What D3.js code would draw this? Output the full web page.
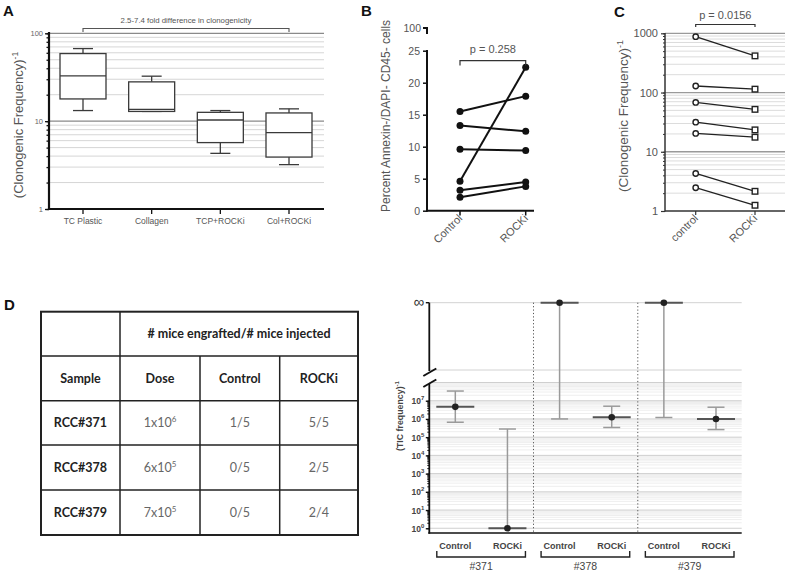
<!DOCTYPE html>
<html><head><meta charset="utf-8">
<script src="https://cdn.jsdelivr.net/npm/d3@7"></script>
<style>body{margin:0;background:#fff} svg{display:block}</style>
</head><body><svg id="c" width="787" height="572"></svg>
<script>
// ---------- Panel A ----------
const aCategories = ["TC Plastic","Collagen","TCP+ROCKi","Col+ROCKi"];
const aWhiskerLow = [13.2, 12.9, 4.3, 3.2];
const aQ1 = [17.9, 12.9, 5.7, 3.9];
const aMedian = [32.7, 13.6, 10.3, 7.4];
const aQ3 = [58.8, 28, 12.6, 12.4];
const aWhiskerHigh = [67, 32.5, 13.2, 13.8];
const aYTicks = [1, 10, 100];
const aNote = "2.5-7.4 fold difference in clonogenicity";

// ---------- Panel B ----------
const bGroups = ["Control","ROCKi"];
const bControl = [15.5, 13.3, 9.6, 4.6, 3.2, 2.1];
const bROCKi = [17.9, 12.4, 9.4, 22.4, 4.5, 3.8];
const bYTicks = [0, 5, 10, 15, 20, 25];
const bBreakTick = 100;
const bP = "p = 0.258";

// ---------- Panel C ----------
const cGroups = ["control","ROCKi"];
const cControl = [877, 129, 68, 31.6, 20.4, 4.3, 2.47];
const cROCKi = [416, 114, 52, 23.4, 17.6, 2.15, 1.25];
const cYTicks = [1, 10, 100, 1000];
const cP = "p = 0.0156";

// ---------- Panel D table ----------
const dHeader = "# mice engrafted/# mice injected";
const dColumns = ["Sample","Dose","Control","ROCKi"];
const dSamples = ["RCC#371","RCC#378","RCC#379"];
const dDoseBase = ["1x10","6x10","7x10"];
const dDoseExp = ["6","5","5"];
const dControl = ["1/5","0/5","0/5"];
const dROCKi = ["5/5","2/5","2/4"];

// ---------- Panel D chart ----------
const eSamples = ["#371","#378","#379"];
const eArms = ["Control","ROCKi"];
const eEstimate = [4.6e6, 1, Infinity, 1.24e6, Infinity, 1e6];
const eUpper = [3.4e7, 2.8e5, Infinity, 5e6, Infinity, 4.4e6];
const eLower = [6.6e5, 1, 1e6, 3.4e5, 1.2e6, 2.6e5];
const eYTickExps = [0,1,2,3,4,5,6,7];

const F = "Liberation Sans, Arial, sans-serif";
const svg = d3.select("#c");

function txt(g, x, y, s, size, fill, anchor){
  return g.append("text").attr("x",x).attr("y",y).attr("font-family",F).attr("font-size",size)
    .attr("fill",fill).attr("text-anchor",anchor||"start").text(s);
}
function minorValues(lo, hi){
  const out=[];
  for(let e=lo;e<hi;e++) for(let m=1;m<10;m++) out.push(m*Math.pow(10,e));
  out.push(Math.pow(10,hi));
  return out;
}
function panelLabel(t,x,y){
  txt(svg,x,y,t,15,"#111").attr("font-weight","bold");
}
function styleAxis(s, col, w){
  s.select(".domain").remove();
  s.selectAll("line").attr("stroke",col).attr("stroke-width",w);
}

// ================= A =================
(function(){
  const g = svg.append("g");
  const x0=49, x1=324;
  const y = d3.scaleLog().domain([1,100]).range([209,33.3]);
  const x = d3.scalePoint().domain(aCategories).range([83,289]);
  minorValues(0,2).forEach(v=>{
    if(v===1) return;
    const major = (v===10||v===100);
    g.append("line").attr("x1",x0).attr("x2",x1).attr("y1",y(v)).attr("y2",y(v))
      .attr("stroke",major?"#8a8a8a":"#d6d6d6").attr("stroke-width",major?1.2:1);
  });
  g.append("g").attr("transform",`translate(${x0},0)`)
    .call(d3.axisLeft(y).tickValues(minorValues(0,2)).tickSize(2.5).tickFormat(""))
    .call(s=>styleAxis(s,"#111",1.3));
  g.append("g").attr("transform",`translate(${x0},0)`)
    .call(d3.axisLeft(y).tickValues(aYTicks).tickSize(4).tickFormat(d3.format("d")))
    .call(s=>{styleAxis(s,"#111",1.3);
      s.selectAll("text").attr("font-size",7.5).attr("fill","#666").attr("font-family",F).attr("dx",1);});
  g.append("line").attr("x1",x0).attr("x2",x0).attr("y1",32).attr("y2",210).attr("stroke","#111").attr("stroke-width",2.2);
  g.append("line").attr("x1",x0-1).attr("x2",x1).attr("y1",209).attr("y2",209).attr("stroke","#111").attr("stroke-width",2.2);
  aCategories.forEach(c=>{
    g.append("line").attr("x1",x(c)).attr("x2",x(c)).attr("y1",209).attr("y2",214).attr("stroke","#111").attr("stroke-width",1.3);
    txt(g,x(c),224,c,8.5,"#555","middle");
  });
  const bw=23, cw=10;
  aCategories.forEach((c,i)=>{
    const cx=x(c), st="#3a3a3a";
    g.append("line").attr("x1",cx).attr("x2",cx).attr("y1",y(aWhiskerHigh[i])).attr("y2",y(aQ3[i])).attr("stroke",st).attr("stroke-width",1.3);
    g.append("line").attr("x1",cx).attr("x2",cx).attr("y1",y(aQ1[i])).attr("y2",y(aWhiskerLow[i])).attr("stroke",st).attr("stroke-width",1.3);
    g.append("line").attr("x1",cx-cw).attr("x2",cx+cw).attr("y1",y(aWhiskerHigh[i])).attr("y2",y(aWhiskerHigh[i])).attr("stroke",st).attr("stroke-width",1.3);
    g.append("line").attr("x1",cx-cw).attr("x2",cx+cw).attr("y1",y(aWhiskerLow[i])).attr("y2",y(aWhiskerLow[i])).attr("stroke",st).attr("stroke-width",1.3);
    g.append("rect").attr("x",cx-bw).attr("width",2*bw).attr("y",y(aQ3[i])).attr("height",y(aQ1[i])-y(aQ3[i]))
      .attr("fill","#fff").attr("stroke",st).attr("stroke-width",1.3);
    g.append("line").attr("x1",cx-bw).attr("x2",cx+bw).attr("y1",y(aMedian[i])).attr("y2",y(aMedian[i])).attr("stroke",st).attr("stroke-width",1.3);
  });
  const bx0=x(aCategories[0]), bx1=x(aCategories[3]);
  g.append("path").attr("d",`M${bx0},32V28.5H${bx1}V32`).attr("fill","none").attr("stroke","#555").attr("stroke-width",1.1);
  txt(g,(bx0+bx1)/2,23,aNote,7.8,"#555","middle");
  const t = txt(g,0,0,"",13,"#555","middle").attr("x",null).attr("y",null).attr("transform","translate(22.5,125) rotate(-90)");
  t.append("tspan").text("(Clonogenic Frequency)");
  t.append("tspan").attr("dy",-5).attr("font-size",8.5).text("-1");
  panelLabel("A",3,16);
})();

// ================= B =================
(function(){
  const g = svg.append("g");
  const ax=427;
  const y = d3.scaleLinear().domain([0,25]).range([210.7,50.7]);
  const x = d3.scalePoint().domain(bGroups).range([460,525.7]);
  g.append("g").attr("transform",`translate(${ax},0)`)
    .call(d3.axisLeft(y).tickValues(bYTicks).tickSize(4))
    .call(s=>{styleAxis(s,"#111",1.5);
      s.selectAll("text").attr("font-size",10.5).attr("fill","#555").attr("font-family",F);});
  g.append("line").attr("x1",ax).attr("x2",ax).attr("y1",49.9).attr("y2",211.7).attr("stroke","#111").attr("stroke-width",2);
  const yb=28;
  g.append("path").attr("d",`M${ax-4},${yb}H${ax}V${yb+6}`).attr("fill","none").attr("stroke","#111").attr("stroke-width",2);
  txt(g,ax-6,yb+3.5,bBreakTick,10.5,"#555","end");
  g.append("line").attr("x1",ax-1).attr("x2",534).attr("y1",210.7).attr("y2",210.7).attr("stroke","#111").attr("stroke-width",2);
  bGroups.forEach(c=>{
    g.append("line").attr("x1",x(c)).attr("x2",x(c)).attr("y1",210.7).attr("y2",215.5).attr("stroke","#111").attr("stroke-width",1.5);
    txt(g,0,0,c,11,"#555","end").attr("x",null).attr("y",null).attr("transform",`translate(${x(c)+3},${219}) rotate(-45)`);
  });
  bControl.forEach((v,i)=>{
    g.append("line").attr("x1",x("Control")).attr("x2",x("ROCKi")).attr("y1",y(v)).attr("y2",y(bROCKi[i])).attr("stroke","#111").attr("stroke-width",2);
  });
  bControl.forEach((v,i)=>{
    g.append("circle").attr("cx",x("Control")).attr("cy",y(v)).attr("r",3.5).attr("fill","#111");
    g.append("circle").attr("cx",x("ROCKi")).attr("cy",y(bROCKi[i])).attr("r",3.5).attr("fill","#111");
  });
  g.append("path").attr("d",`M${x("Control")},65.5V60.7H${x("ROCKi")}V65.5`).attr("fill","none").attr("stroke","#333").attr("stroke-width",1.2);
  txt(g,(x("Control")+x("ROCKi"))/2,53,bP,11,"#555","middle");
  txt(g,0,0,"Percent Annexin-/DAPI- CD45- cells",12,"#555","middle").attr("x",null).attr("y",null).attr("transform","translate(389.5,116) rotate(-90)");
  panelLabel("B",361,16);
})();

// ================= C =================
(function(){
  const g = svg.append("g");
  const ax=665, x1=785;
  const y = d3.scaleLog().domain([1,1000]).range([211,33.3]);
  const x = d3.scalePoint().domain(cGroups).range([695.7,755]);
  minorValues(0,3).forEach(v=>{
    if(v===1) return;
    const major = (v===10||v===100||v===1000);
    g.append("line").attr("x1",ax).attr("x2",x1).attr("y1",y(v)).attr("y2",y(v))
      .attr("stroke",major?"#9a9a9a":"#dcdcdc").attr("stroke-width",major?1.3:1);
  });
  g.append("g").attr("transform",`translate(${ax},0)`)
    .call(d3.axisLeft(y).tickValues(minorValues(0,3)).tickSize(2).tickFormat(""))
    .call(s=>styleAxis(s,"#333",1));
  g.append("g").attr("transform",`translate(${ax},0)`)
    .call(d3.axisLeft(y).tickValues(cYTicks).tickSize(4).tickFormat(d3.format("d")))
    .call(s=>{styleAxis(s,"#333",1.2);
      s.selectAll("text").attr("font-size",11).attr("fill","#555").attr("font-family",F);});
  g.append("line").attr("x1",ax).attr("x2",ax).attr("y1",33).attr("y2",211.5).attr("stroke","#333").attr("stroke-width",1.5);
  g.append("line").attr("x1",ax).attr("x2",x1).attr("y1",211).attr("y2",211).attr("stroke","#333").attr("stroke-width",1.5);
  cGroups.forEach(c=>{
    g.append("line").attr("x1",x(c)).attr("x2",x(c)).attr("y1",211).attr("y2",215).attr("stroke","#333").attr("stroke-width",1.2);
    txt(g,0,0,c,11,"#555","end").attr("x",null).attr("y",null).attr("transform",`translate(${x(c)+3},${219}) rotate(-45)`);
  });
  cControl.forEach((v,i)=>{
    g.append("line").attr("x1",x("control")).attr("x2",x("ROCKi")).attr("y1",y(v)).attr("y2",y(cROCKi[i])).attr("stroke","#222").attr("stroke-width",1.3);
  });
  cControl.forEach((v,i)=>{
    g.append("circle").attr("cx",x("control")).attr("cy",y(v)).attr("r",2.7).attr("fill","#fff").attr("stroke","#222").attr("stroke-width",1.4);
    g.append("rect").attr("x",x("ROCKi")-2.8).attr("y",y(cROCKi[i])-2.8).attr("width",5.6).attr("height",5.6).attr("fill","#fff").attr("stroke","#222").attr("stroke-width",1.4);
  });
  g.append("path").attr("d",`M${x("control")},27V24.5H${x("ROCKi")}V27`).attr("fill","none").attr("stroke","#333").attr("stroke-width",1.2);
  txt(g,(x("control")+x("ROCKi"))/2,19,cP,11,"#555","middle");
  const t = txt(g,0,0,"",13.5,"#555","middle").attr("x",null).attr("y",null).attr("transform","translate(628,116) rotate(-90)");
  t.append("tspan").text("(Clonogenic Frequency)");
  t.append("tspan").attr("dy",-5).attr("font-size",9).text("-1");
  panelLabel("C",614,17);
})();

// ================= D table =================
(function(){
  const g = svg.append("g");
  const cols=[41,120,200,279.7,358], rows=[311.7,356,400.7,445,490,535];
  const font="Lato, 'Open Sans', sans-serif";
  g.append("rect").attr("x",cols[0]).attr("y",rows[0]).attr("width",cols[4]-cols[0]).attr("height",rows[5]-rows[0]).attr("fill","none").attr("stroke","#222").attr("stroke-width",2);
  rows.slice(1,5).forEach(r=>g.append("line").attr("x1",cols[0]).attr("x2",cols[4]).attr("y1",r).attr("y2",r).attr("stroke","#222").attr("stroke-width",1.5));
  g.append("line").attr("x1",cols[1]).attr("x2",cols[1]).attr("y1",rows[0]).attr("y2",rows[5]).attr("stroke","#222").attr("stroke-width",1.5);
  [2,3].forEach(k=>g.append("line").attr("x1",cols[k]).attr("x2",cols[k]).attr("y1",rows[1]).attr("y2",rows[5]).attr("stroke","#222").attr("stroke-width",1.5));
  const cx=k=>(cols[k]+cols[k+1])/2, cy=r=>(rows[r]+rows[r+1])/2+4.5;
  const T=(x,y,s,bold,fill)=>g.append("text").attr("x",x).attr("y",y).attr("text-anchor","middle").attr("font-family",font)
      .attr("font-weight",bold?"bold":"normal").attr("font-size",12.5).attr("fill",fill).text(s);
  T((cols[1]+cols[4])/2,cy(0),dHeader,true,"#222");
  dColumns.forEach((c,k)=>T(cx(k),cy(1),c,true,"#222"));
  dSamples.forEach((s,i)=>{
    const r=i+2;
    T(cx(0),cy(r),s,true,"#222");
    const t=T(cx(1),cy(r),"",false,"#666");
    t.append("tspan").text(dDoseBase[i]);
    t.append("tspan").attr("dy",-5).attr("font-size",8).text(dDoseExp[i]);
    T(cx(2),cy(r),dControl[i],false,"#666");
    T(cx(3),cy(r),dROCKi[i],false,"#666");
  });
  panelLabel("D",4,310);
})();

// ================= D chart =================
(function(){
  const g = svg.append("g");
  const ax=429.3, x1=741.7, yBot=533, yInf=302.7;
  const y = d3.scaleLog().domain([Math.pow(10,-0.26),1e8]).range([yBot,382.5]);
  const yv = v => isFinite(v) ? y(v) : yInf;
  const keys=[]; eSamples.forEach(s=>eArms.forEach(a=>keys.push(s+"|"+a)));
  const x = d3.scalePoint().domain(keys).range([455.3,716]);
  minorValues(0,8).forEach(v=>{
    const major = Math.abs(Math.log10(v)-Math.round(Math.log10(v)))<1e-9;
    g.append("line").attr("x1",ax).attr("x2",x1).attr("y1",y(v)).attr("y2",y(v))
      .attr("stroke",major?"#cfcfcf":"#eeeeee").attr("stroke-width",1);
  });
  [yInf,370].forEach(yy=>g.append("line").attr("x1",ax).attr("x2",x1).attr("y1",yy).attr("y2",yy).attr("stroke","#d2d2d2").attr("stroke-width",1));
  [[1,2],[3,4]].forEach(([a,b])=>{
    const sx=(x(keys[a])+x(keys[b]))/2;
    g.append("line").attr("x1",sx).attr("x2",sx).attr("y1",yInf).attr("y2",yBot).attr("stroke","#555").attr("stroke-width",1).attr("stroke-dasharray","1.2,2.2");
  });
  g.append("g").attr("transform",`translate(${ax},0)`)
    .call(d3.axisLeft(y).tickValues(minorValues(0,7).filter(v=>y(v)>384)).tickSize(2).tickFormat(""))
    .call(s=>styleAxis(s,"#111",1));
  g.append("g").attr("transform",`translate(${ax},0)`)
    .call(d3.axisLeft(y).tickValues(eYTickExps.map(e=>Math.pow(10,e))).tickSize(3.5).tickFormat(""))
    .call(s=>styleAxis(s,"#111",1.4));
  eYTickExps.forEach(e=>{
    const t=txt(g,ax-5,y(Math.pow(10,e))+3.5,"",8.5,"#444","end").attr("font-weight","bold");
    t.append("tspan").text("10");
    t.append("tspan").attr("dy",-4).attr("font-size",6).text(e);
  });
  g.append("line").attr("x1",ax).attr("x2",ax).attr("y1",384).attr("y2",yBot+0.7).attr("stroke","#111").attr("stroke-width",1.8);
  g.append("line").attr("x1",ax).attr("x2",ax).attr("y1",yInf).attr("y2",371).attr("stroke","#111").attr("stroke-width",1.8);
  g.append("line").attr("x1",ax-3.5).attr("x2",ax).attr("y1",yInf).attr("y2",yInf).attr("stroke","#111").attr("stroke-width",1.4);
  txt(g,ax-5,yInf+4.5,"∞",15,"#333","end");
  g.append("line").attr("x1",ax-6).attr("x2",ax+7).attr("y1",376).attr("y2",368.5).attr("stroke","#111").attr("stroke-width",2);
  g.append("line").attr("x1",ax-6).attr("x2",ax+7).attr("y1",387).attr("y2",379.5).attr("stroke","#111").attr("stroke-width",2);
  g.append("line").attr("x1",ax-1).attr("x2",x1).attr("y1",yBot).attr("y2",yBot).attr("stroke","#111").attr("stroke-width",1.6);
  keys.forEach((k,i)=>{
    const cx=x(k), gr="#9a9a9a";
    const yU=yv(eUpper[i]), yL=yv(eLower[i]), yE=yv(eEstimate[i]);
    g.append("line").attr("x1",cx).attr("x2",cx).attr("y1",yU).attr("y2",yL).attr("stroke",gr).attr("stroke-width",1.5);
    if(yU!==yE) g.append("line").attr("x1",cx-8.5).attr("x2",cx+8.5).attr("y1",yU).attr("y2",yU).attr("stroke",gr).attr("stroke-width",1.5);
    if(yL!==yE) g.append("line").attr("x1",cx-8.5).attr("x2",cx+8.5).attr("y1",yL).attr("y2",yL).attr("stroke",gr).attr("stroke-width",1.5);
    g.append("line").attr("x1",cx-19).attr("x2",cx+19).attr("y1",yE).attr("y2",yE).attr("stroke","#555").attr("stroke-width",2);
    g.append("circle").attr("cx",cx).attr("cy",yE).attr("r",3.3).attr("fill","#222");
  });
  keys.forEach(k=>{
    txt(g,x(k),548.5,k.split("|")[1],9,"#444","middle").attr("font-weight","bold");
  });
  eSamples.forEach((s,j)=>{
    const xa=x(s+"|"+eArms[0])-18.5, xb=x(s+"|"+eArms[1])+18;
    g.append("path").attr("d",`M${xa},551V557H${xb}V551`).attr("fill","none").attr("stroke","#222").attr("stroke-width",1.4);
    txt(g,(xa+xb)/2,570,s,10.5,"#444","middle");
  });
  const t=txt(g,0,0,"",8.8,"#444","middle").attr("x",null).attr("y",null).attr("font-weight","bold").attr("transform","translate(403,416) rotate(-90)");
  t.append("tspan").text("(TIC frequency)");
  t.append("tspan").attr("dy",-4).attr("font-size",6).text("-1");
})();
</script></body></html>
